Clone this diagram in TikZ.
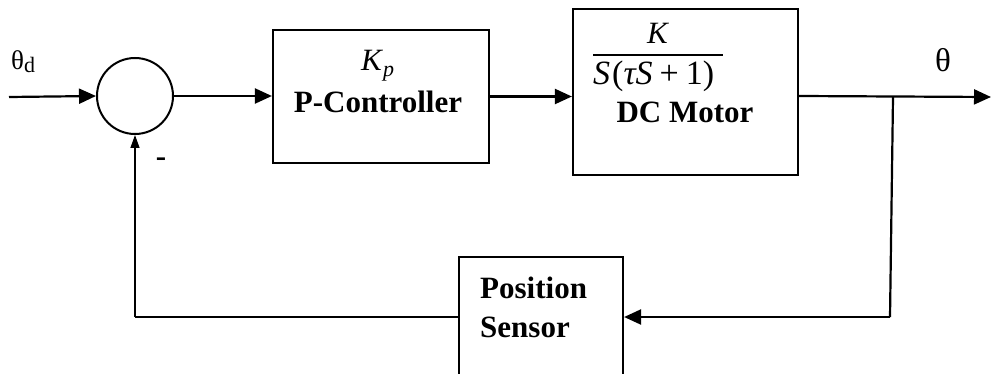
\documentclass[tikz,border=0pt]{standalone}
\usepackage{fontspec}
\setmainfont{Liberation Serif}
\usetikzlibrary{arrows.meta}
\begin{document}
\begin{tikzpicture}[x=1pt,y=-1pt,
  lw/.style={line width=2.2pt},
  blk/.style={draw,line width=2.2pt,inner sep=0pt},
  arr/.style={line width=2.2pt,-{Triangle[length=17pt,width=15pt]}},
  arrs/.style={line width=1.4pt,-{Triangle[length=13pt,width=9pt]}},
  lab/.style={font=\fontsize{31}{39}\selectfont\bfseries,inner sep=0pt},
  mth/.style={font=\fontsize{31}{34}\selectfont,inner sep=0pt}]
\useasboundingbox (0,0) rectangle (992,374);
\clip (0,0) rectangle (992,374);
% blocks
\node[draw,circle,line width=2pt,minimum size=76pt,inner sep=0pt] (sum) at (135,96) {};
\node[blk,minimum width=216pt,minimum height=133pt] (pc) at (381,96.5) {};
\node[blk,minimum width=225pt,minimum height=166pt] (dc) at (685.5,92) {};
\node[blk,minimum width=164pt,minimum height=200pt] (ps) at (541,357) {};
% texts
\node[mth,anchor=base west] (kp) at (361,71) {\textit{K}\raisebox{-6pt}{\fontsize{22}{22}\selectfont\textit{p}}};
\node[lab,anchor=base] (pct) at (378,113) {P-Controller};
\node[mth,anchor=base] (num) at (658,44) {\textit{K}};
\node[mth,anchor=base west,font=\fontsize{34}{36}\selectfont] (den) at (593,85) {\textit{S}\kern2pt(\textit{τS}\kern7pt+\kern7pt1)};
\draw[line width=1.5pt] (593,55) -- (723,55);
\node[lab,anchor=base] (dct) at (685,123) {DC Motor};
\node[lab,anchor=base west] (pst) at (480,298) {Position};
\node[lab,anchor=base west] (sst) at (480,337) {Sensor};
\node[anchor=base west,inner sep=0pt,font=\fontsize{27}{27}\selectfont] (thd) at (11,70) {θ\raisebox{-3pt}{\fontsize{22}{22}\selectfont d}};
\node[anchor=base,inner sep=0pt,font=\fontsize{33}{33}\selectfont] (th) at (943,72) {θ};
\node[lab] (minus) at (161,162) {-};
% coordinates
\coordinate (in) at (9,97);
\coordinate (out) at (991,97);
\coordinate (br) at (893,97);
\coordinate (fbR) at (890,317);
\coordinate (fbL) at (135,317);
% connectors
\draw[arr] (in) -- (sum.west);
\draw[arr] (sum.east) -- (sum.east -| pc.west);
\draw[arr] (pc.east) -- (pc.east -| dc.west);
\draw[arr] (dc.east |- sum) -- (out);
\draw[lw] (br) -- (fbR);
\draw[arr] (fbR) -- (fbR -| ps.east);
\draw[lw] (fbR -| ps.west) -- (fbL);
\draw[arrs] (fbL) -- (sum.south);
\end{tikzpicture}
\end{document}
